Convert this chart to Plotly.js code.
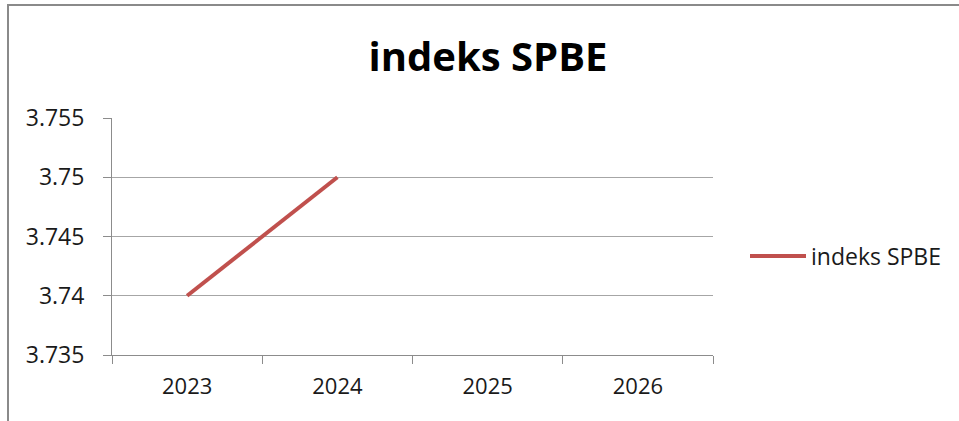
<!DOCTYPE html>
<html>
<head>
<meta charset="utf-8">
<script src="https://cdn.plot.ly/plotly-3.0.1.min.js"></script>
<style>
  html, body { margin: 0; padding: 0; background: #fff; }
  #wrap { position: relative; width: 959px; height: 421px; overflow: hidden; }
  #chart { position: absolute; left: 0; top: 0; width: 959px; height: 421px; }
  #frame { position: absolute; left: 7px; top: 4px; width: 1000px; height: 500px;
           border-top: 2px solid #8a8a8a; border-left: 2px solid #8a8a8a; pointer-events: none; }
</style>
</head>
<body>
<div id="wrap">
  <div id="chart"></div>
  <div id="frame"></div>
</div>
<script>
const years = ['2023', '2024', '2025', '2026'];
const spbeValues = [3.74, 3.75, null, null];
const seriesName = 'indeks SPBE';
const chartTitle = 'indeks SPBE';

const font = 'Open Sans, Liberation Sans, sans-serif';

const trace = {
  x: years,
  y: spbeValues,
  type: 'scatter',
  mode: 'lines',
  name: seriesName,
  line: { color: '#C0504D', width: 4 },
  connectgaps: false,
  showlegend: true
};

const layout = {
  width: 959,
  height: 421,
  paper_bgcolor: '#ffffff',
  plot_bgcolor: '#ffffff',
  margin: { l: 112, r: 246, t: 118, b: 66 },
  font: { family: font, color: '#1a1a1a', size: 22 },
  title: {
    text: '<b>' + chartTitle + '</b>',
    font: { family: font, size: 40, color: '#000000' },
    xref: 'container', x: 488 / 959, xanchor: 'center',
    yref: 'container', y: 1 - 57 / 421, yanchor: 'middle'
  },
  xaxis: {
    type: 'category',
    range: [-0.5, 3.5],
    showgrid: false,
    showline: true,
    linecolor: '#8c8c8c',
    linewidth: 1,
    ticks: 'outside',
    tickson: 'boundaries',
    ticklen: 8,
    tickcolor: '#8c8c8c',
    ticklabelstandoff: 12,
    tickfont: { family: font, size: 22, color: '#1a1a1a' },
    zeroline: false,
    fixedrange: true
  },
  yaxis: {
    range: [3.735, 3.755],
    dtick: 0.005,
    tick0: 3.735,
    showgrid: true,
    gridcolor: '#a6a6a6',
    gridwidth: 1,
    showline: true,
    linecolor: '#8c8c8c',
    linewidth: 1,
    ticks: 'outside',
    ticklen: 8,
    tickcolor: '#8c8c8c',
    ticklabelstandoff: 14,
    tickfont: { family: font, size: 23, color: '#1a1a1a' },
    zeroline: false,
    fixedrange: true
  },
  showlegend: true,
  legend: {
    xref: 'container', yref: 'container',
    x: 745 / 959, xanchor: 'left',
    y: 1 - 256 / 421, yanchor: 'middle',
    font: { family: font, size: 23, color: '#1a1a1a' },
    bgcolor: 'rgba(0,0,0,0)',
    itemwidth: 56
  }
};

Plotly.newPlot('chart', [trace], layout, { staticPlot: true, displayModeBar: false });
</script>
</body>
</html>
